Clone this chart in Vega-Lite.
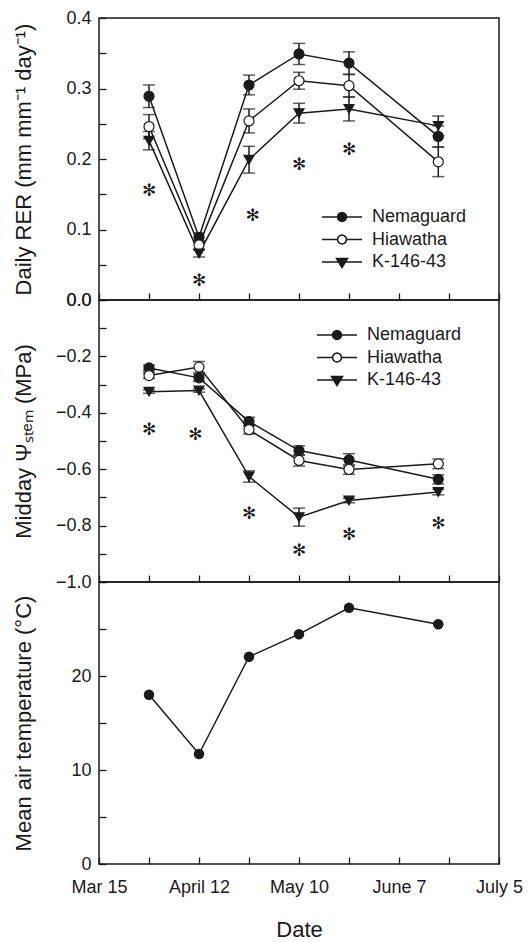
{
  "$schema": "https://vega.github.io/schema/vega-lite/v6.json",
  "padding": {"left": 11, "top": 8, "right": 5, "bottom": 3},
  "bounds": "flush",
  "spacing": 0,
  "resolve": {"scale": {"shape": "independent", "fill": "independent"}, "legend": {"shape": "independent", "fill": "independent"}},
  "datasets": {
    "rer": [
      {"date": "2010-03-29", "rootstock": "Nemaguard", "value": 0.289, "se": 0.016},
      {"date": "2010-04-12", "rootstock": "Nemaguard", "value": 0.089, "se": 0.006},
      {"date": "2010-04-26", "rootstock": "Nemaguard", "value": 0.305, "se": 0.014},
      {"date": "2010-05-10", "rootstock": "Nemaguard", "value": 0.349, "se": 0.015},
      {"date": "2010-05-24", "rootstock": "Nemaguard", "value": 0.336, "se": 0.016},
      {"date": "2010-06-18", "rootstock": "Nemaguard", "value": 0.232, "se": 0.015},
      {"date": "2010-03-29", "rootstock": "Hiawatha", "value": 0.246, "se": 0.017},
      {"date": "2010-04-12", "rootstock": "Hiawatha", "value": 0.078, "se": 0.006},
      {"date": "2010-04-26", "rootstock": "Hiawatha", "value": 0.254, "se": 0.017},
      {"date": "2010-05-10", "rootstock": "Hiawatha", "value": 0.311, "se": 0.012},
      {"date": "2010-05-24", "rootstock": "Hiawatha", "value": 0.304, "se": 0.016},
      {"date": "2010-06-18", "rootstock": "Hiawatha", "value": 0.196, "se": 0.021},
      {"date": "2010-03-29", "rootstock": "K-146-43", "value": 0.226, "se": 0.013},
      {"date": "2010-04-12", "rootstock": "K-146-43", "value": 0.066, "se": 0.005},
      {"date": "2010-04-26", "rootstock": "K-146-43", "value": 0.199, "se": 0.019},
      {"date": "2010-05-10", "rootstock": "K-146-43", "value": 0.265, "se": 0.014},
      {"date": "2010-05-24", "rootstock": "K-146-43", "value": 0.271, "se": 0.017},
      {"date": "2010-06-18", "rootstock": "K-146-43", "value": 0.247, "se": 0.014}
    ],
    "psi": [
      {"date": "2010-03-29", "rootstock": "Nemaguard", "value": -0.241, "se": 0.010},
      {"date": "2010-04-12", "rootstock": "Nemaguard", "value": -0.276, "se": 0.012},
      {"date": "2010-04-26", "rootstock": "Nemaguard", "value": -0.431, "se": 0.015},
      {"date": "2010-05-10", "rootstock": "Nemaguard", "value": -0.534, "se": 0.017},
      {"date": "2010-05-24", "rootstock": "Nemaguard", "value": -0.567, "se": 0.022},
      {"date": "2010-06-18", "rootstock": "Nemaguard", "value": -0.636, "se": 0.016},
      {"date": "2010-03-29", "rootstock": "Hiawatha", "value": -0.268, "se": 0.010},
      {"date": "2010-04-12", "rootstock": "Hiawatha", "value": -0.238, "se": 0.020},
      {"date": "2010-04-26", "rootstock": "Hiawatha", "value": -0.460, "se": 0.015},
      {"date": "2010-05-10", "rootstock": "Hiawatha", "value": -0.569, "se": 0.020},
      {"date": "2010-05-24", "rootstock": "Hiawatha", "value": -0.601, "se": 0.017},
      {"date": "2010-06-18", "rootstock": "Hiawatha", "value": -0.581, "se": 0.017},
      {"date": "2010-03-29", "rootstock": "K-146-43", "value": -0.325, "se": 0.006},
      {"date": "2010-04-12", "rootstock": "K-146-43", "value": -0.321, "se": 0.006},
      {"date": "2010-04-26", "rootstock": "K-146-43", "value": -0.626, "se": 0.020},
      {"date": "2010-05-10", "rootstock": "K-146-43", "value": -0.770, "se": 0.032},
      {"date": "2010-05-24", "rootstock": "K-146-43", "value": -0.711, "se": 0.008},
      {"date": "2010-06-18", "rootstock": "K-146-43", "value": -0.681, "se": 0.010}
    ],
    "temp": [
      {"date": "2010-03-29", "value": 18.0},
      {"date": "2010-04-12", "value": 11.7},
      {"date": "2010-04-26", "value": 22.05},
      {"date": "2010-05-10", "value": 24.45},
      {"date": "2010-05-24", "value": 27.25},
      {"date": "2010-06-18", "value": 25.5}
    ],
    "sigA": [
      {"date": "2010-03-29", "value": 0.154},
      {"date": "2010-04-12", "value": 0.027},
      {"date": "2010-04-27", "value": 0.119},
      {"date": "2010-05-10", "value": 0.192},
      {"date": "2010-05-24", "value": 0.213}
    ],
    "sigB": [
      {"date": "2010-03-29", "value": -0.460},
      {"date": "2010-04-11", "value": -0.477},
      {"date": "2010-04-26", "value": -0.760},
      {"date": "2010-05-10", "value": -0.891},
      {"date": "2010-05-24", "value": -0.835},
      {"date": "2010-06-18", "value": -0.793}
    ]
  },
  "vconcat": [
    {
      "width": 400,
      "height": 282,
      "resolve": {"scale": {"shape": "independent", "fill": "independent"}, "legend": {"shape": "independent", "fill": "independent"}},
      "encoding": {
        "x": {"field": "date", "type": "temporal",
          "scale": {"type": "utc", "domain": [{"year": 2010, "month": 3, "date": 15, "utc": true}, {"year": 2010, "month": 7, "date": 5, "utc": true}]},
          "axis": {"title": null, "labels": false,
            "values": [{"year": 2010, "month": 3, "date": 15, "utc": true}, {"year": 2010, "month": 3, "date": 29, "utc": true}, {"year": 2010, "month": 4, "date": 12, "utc": true}, {"year": 2010, "month": 4, "date": 26, "utc": true}, {"year": 2010, "month": 5, "date": 10, "utc": true}, {"year": 2010, "month": 5, "date": 24, "utc": true}, {"year": 2010, "month": 6, "date": 7, "utc": true}, {"year": 2010, "month": 6, "date": 21, "utc": true}, {"year": 2010, "month": 7, "date": 5, "utc": true}]}},
        "y": {"field": "value", "type": "quantitative",
          "scale": {"domain": [0, 0.4], "nice": false, "zero": false},
          "axis": {"title": "Daily RER (mm mm⁻¹ day⁻¹)", "titleX": -76, "titleY": 141, "titleBaseline": "middle",
            "values": [0, 0.05, 0.1, 0.15, 0.2, 0.25, 0.3, 0.35, 0.4],
            "labelExpr": "round(datum.value*20) % 2 == 0 ? format(datum.value, '.1f') : ''"}}
      },
      "layer": [
        {"data": {"name": "rer"}, "mark": {"type": "line", "color": "#1a1a1a", "strokeWidth": 1.5},
          "encoding": {"detail": {"field": "rootstock"}}},
        {"data": {"name": "rer"}, "mark": {"type": "errorbar", "ticks": true, "size": 12, "thickness": 1.5, "color": "#1a1a1a"},
          "encoding": {"yError": {"field": "se"}, "detail": {"field": "rootstock"}}},
        {"data": {"name": "rer"}, "mark": {"type": "point", "filled": true, "size": 100, "stroke": "#1a1a1a", "strokeWidth": 1.2, "opacity": 1},
          "encoding": {
            "shape": {"field": "rootstock", "type": "nominal", "scale": {"domain": ["Nemaguard", "Hiawatha", "K-146-43"], "range": ["circle", "circle", "triangle-down"]}, "legend": null},
            "fill": {"field": "rootstock", "type": "nominal", "scale": {"domain": ["Nemaguard", "Hiawatha", "K-146-43"], "range": ["#1a1a1a", "white", "#1a1a1a"]}, "legend": null}
          }},
        {"data": {"name": "rer"}, "mark": {"type": "point", "filled": true, "stroke": "#1a1a1a", "strokeWidth": 1.5, "opacity": 0},
          "encoding": {
            "shape": {"field": "rootstock", "type": "nominal", "scale": {"domain": ["Nemaguard", "Hiawatha", "K-146-43"], "range": ["M-2,0H2M0.45,0L0.39,0.225L0.225,0.39L0,0.45L-0.225,0.39L-0.39,0.225L-0.45,0L-0.39,-0.225L-0.225,-0.39L0,-0.45L0.225,-0.39L0.39,-0.225Z", "M-2,0H-0.45M0.45,0H2M0.45,0L0.39,0.225L0.225,0.39L0,0.45L-0.225,0.39L-0.39,0.225L-0.45,0L-0.39,-0.225L-0.225,-0.39L0,-0.45L0.225,-0.39L0.39,-0.225Z", "M-2,0H2M-0.55,-0.35L0.55,-0.35L0,0.55Z"]},
              "legend": {"title": null, "orient": "none", "legendX": 232, "legendY": 188, "symbolSize": 400, "symbolOpacity": 1, "symbolStrokeWidth": 1.5, "labelFontSize": 18, "labelColor": "#1a1a1a", "labelOffset": 19, "rowPadding": 2.5, "padding": 0}},
            "fill": {"field": "rootstock", "type": "nominal", "scale": {"domain": ["Nemaguard", "Hiawatha", "K-146-43"], "range": ["#1a1a1a", "white", "#1a1a1a"]},
              "legend": {"title": null, "orient": "none", "legendX": 232, "legendY": 188, "symbolSize": 400, "symbolOpacity": 1, "symbolStrokeWidth": 1.5, "labelFontSize": 18, "labelColor": "#1a1a1a", "labelOffset": 19, "rowPadding": 2.5, "padding": 0}}
          }},
        {"data": {"name": "sigA"}, "mark": {"type": "text", "text": "✻", "fontSize": 17, "font": "DejaVu Sans", "color": "#1a1a1a", "baseline": "middle", "align": "center"}},
        {"data": {"values": [{}]}, "mark": {"type": "text", "text": "A", "fontSize": 20, "fontWeight": "bold", "color": "#1a1a1a", "baseline": "middle", "align": "center"},
          "encoding": {"x": {"datum": {"year": 2010, "month": 3, "date": 22, "hours": 12, "utc": true}, "type": "temporal"}, "y": {"datum": 0.3735}}}
      ]
    },
    {
      "width": 400,
      "height": 282,
      "resolve": {"scale": {"shape": "independent", "fill": "independent"}, "legend": {"shape": "independent", "fill": "independent"}},
      "encoding": {
        "x": {"field": "date", "type": "temporal",
          "scale": {"type": "utc", "domain": [{"year": 2010, "month": 3, "date": 15, "utc": true}, {"year": 2010, "month": 7, "date": 5, "utc": true}]},
          "axis": {"title": null, "labels": false,
            "values": [{"year": 2010, "month": 3, "date": 15, "utc": true}, {"year": 2010, "month": 3, "date": 29, "utc": true}, {"year": 2010, "month": 4, "date": 12, "utc": true}, {"year": 2010, "month": 4, "date": 26, "utc": true}, {"year": 2010, "month": 5, "date": 10, "utc": true}, {"year": 2010, "month": 5, "date": 24, "utc": true}, {"year": 2010, "month": 6, "date": 7, "utc": true}, {"year": 2010, "month": 6, "date": 21, "utc": true}, {"year": 2010, "month": 7, "date": 5, "utc": true}]}},
        "y": {"field": "value", "type": "quantitative",
          "scale": {"domain": [-1, 0], "nice": false, "zero": false},
          "axis": {"title": "Midday Ψₛₜₑₘ (MPa)", "titleX": -76, "titleY": 141, "titleBaseline": "middle",
            "values": [0, -0.1, -0.2, -0.3, -0.4, -0.5, -0.6, -0.7, -0.8, -0.9, -1],
            "labelExpr": "round(datum.value*10) % 2 == 0 ? format(datum.value, '.1f') : ''"}}
      },
      "layer": [
        {"data": {"name": "psi"}, "mark": {"type": "line", "color": "#1a1a1a", "strokeWidth": 1.5},
          "encoding": {"detail": {"field": "rootstock"}}},
        {"data": {"name": "psi"}, "mark": {"type": "errorbar", "ticks": true, "size": 12, "thickness": 1.5, "color": "#1a1a1a"},
          "encoding": {"yError": {"field": "se"}, "detail": {"field": "rootstock"}}},
        {"data": {"name": "psi"}, "mark": {"type": "point", "filled": true, "size": 100, "stroke": "#1a1a1a", "strokeWidth": 1.2, "opacity": 1},
          "encoding": {
            "shape": {"field": "rootstock", "type": "nominal", "scale": {"domain": ["Nemaguard", "Hiawatha", "K-146-43"], "range": ["circle", "circle", "triangle-down"]}, "legend": null},
            "fill": {"field": "rootstock", "type": "nominal", "scale": {"domain": ["Nemaguard", "Hiawatha", "K-146-43"], "range": ["#1a1a1a", "white", "#1a1a1a"]}, "legend": null}
          }},
        {"data": {"name": "psi"}, "mark": {"type": "point", "filled": true, "stroke": "#1a1a1a", "strokeWidth": 1.5, "opacity": 0},
          "encoding": {
            "shape": {"field": "rootstock", "type": "nominal", "scale": {"domain": ["Nemaguard", "Hiawatha", "K-146-43"], "range": ["M-2,0H2M0.45,0L0.39,0.225L0.225,0.39L0,0.45L-0.225,0.39L-0.39,0.225L-0.45,0L-0.39,-0.225L-0.225,-0.39L0,-0.45L0.225,-0.39L0.39,-0.225Z", "M-2,0H-0.45M0.45,0H2M0.45,0L0.39,0.225L0.225,0.39L0,0.45L-0.225,0.39L-0.39,0.225L-0.45,0L-0.39,-0.225L-0.225,-0.39L0,-0.45L0.225,-0.39L0.39,-0.225Z", "M-2,0H2M-0.55,-0.35L0.55,-0.35L0,0.55Z"]},
              "legend": {"title": null, "orient": "none", "legendX": 227, "legendY": 24, "symbolSize": 400, "symbolOpacity": 1, "symbolStrokeWidth": 1.5, "labelFontSize": 18, "labelColor": "#1a1a1a", "labelOffset": 19, "rowPadding": 2.5, "padding": 0}},
            "fill": {"field": "rootstock", "type": "nominal", "scale": {"domain": ["Nemaguard", "Hiawatha", "K-146-43"], "range": ["#1a1a1a", "white", "#1a1a1a"]},
              "legend": {"title": null, "orient": "none", "legendX": 227, "legendY": 24, "symbolSize": 400, "symbolOpacity": 1, "symbolStrokeWidth": 1.5, "labelFontSize": 18, "labelColor": "#1a1a1a", "labelOffset": 19, "rowPadding": 2.5, "padding": 0}}
          }},
        {"data": {"name": "sigB"}, "mark": {"type": "text", "text": "✻", "fontSize": 17, "font": "DejaVu Sans", "color": "#1a1a1a", "baseline": "middle", "align": "center"}},
        {"data": {"values": [{}]}, "mark": {"type": "text", "text": "B", "fontSize": 20, "fontWeight": "bold", "color": "#1a1a1a", "baseline": "middle", "align": "center"},
          "encoding": {"x": {"datum": {"year": 2010, "month": 3, "date": 22, "hours": 12, "utc": true}, "type": "temporal"}, "y": {"datum": -0.073}}}
      ]
    },
    {
      "width": 400,
      "height": 282,
      "encoding": {
        "x": {"field": "date", "type": "temporal",
          "scale": {"type": "utc", "domain": [{"year": 2010, "month": 3, "date": 15, "utc": true}, {"year": 2010, "month": 7, "date": 5, "utc": true}]},
          "axis": {"title": "Date", "titleY": 65, "titleBaseline": "middle", "labelPadding": 21, "labelFlush": false,
            "values": [{"year": 2010, "month": 3, "date": 15, "utc": true}, {"year": 2010, "month": 3, "date": 29, "utc": true}, {"year": 2010, "month": 4, "date": 12, "utc": true}, {"year": 2010, "month": 4, "date": 26, "utc": true}, {"year": 2010, "month": 5, "date": 10, "utc": true}, {"year": 2010, "month": 5, "date": 24, "utc": true}, {"year": 2010, "month": 6, "date": 7, "utc": true}, {"year": 2010, "month": 6, "date": 21, "utc": true}, {"year": 2010, "month": 7, "date": 5, "utc": true}],
            "labelExpr": "utcmonth(datum.value)==2 && utcdate(datum.value)==15 ? 'Mar 15' : utcmonth(datum.value)==3 && utcdate(datum.value)==12 ? 'April 12' : utcmonth(datum.value)==4 && utcdate(datum.value)==10 ? 'May 10' : utcmonth(datum.value)==5 && utcdate(datum.value)==7 ? 'June 7' : utcmonth(datum.value)==6 && utcdate(datum.value)==5 ? 'July 5' : ''"}},
        "y": {"field": "value", "type": "quantitative",
          "scale": {"domain": [0, 30], "nice": false, "zero": false},
          "axis": {"title": "Mean air temperature (°C)", "titleX": -76, "titleY": 141, "titleBaseline": "middle",
            "values": [0, 5, 10, 15, 20, 25, 30],
            "labelExpr": "datum.value % 10 == 0 && datum.value < 30 ? datum.label : ''"}}
      },
      "layer": [
        {"data": {"name": "temp"}, "mark": {"type": "line", "color": "#1a1a1a", "strokeWidth": 1.5}, "encoding": {}},
        {"data": {"name": "temp"}, "mark": {"type": "point", "filled": true, "size": 110, "color": "#1a1a1a", "opacity": 1}, "encoding": {}},
        {"data": {"values": [{}]}, "mark": {"type": "text", "text": "C", "fontSize": 20, "fontWeight": "bold", "color": "#1a1a1a", "baseline": "middle", "align": "center"},
          "encoding": {"x": {"datum": {"year": 2010, "month": 3, "date": 22, "hours": 12, "utc": true}, "type": "temporal"}, "y": {"datum": 27.3}}}
      ]
    }
  ],
  "config": {
    "font": "Liberation Sans",
    "view": {"stroke": "#1a1a1a", "strokeWidth": 1.5},
    "axis": {"domain": false, "grid": false, "ticks": true, "tickColor": "#1a1a1a", "tickSize": -7, "tickWidth": 1.3,
      "labelFont": "Liberation Sans", "labelFontSize": 18, "labelColor": "#1a1a1a", "labelPadding": 15, "labelOverlap": false, "labelBound": false,
      "titleFont": "Liberation Sans", "titleFontSize": 22, "titleFontWeight": "normal", "titleColor": "#1a1a1a"},
    "legend": {"labelFont": "Liberation Sans"}
  }
}
